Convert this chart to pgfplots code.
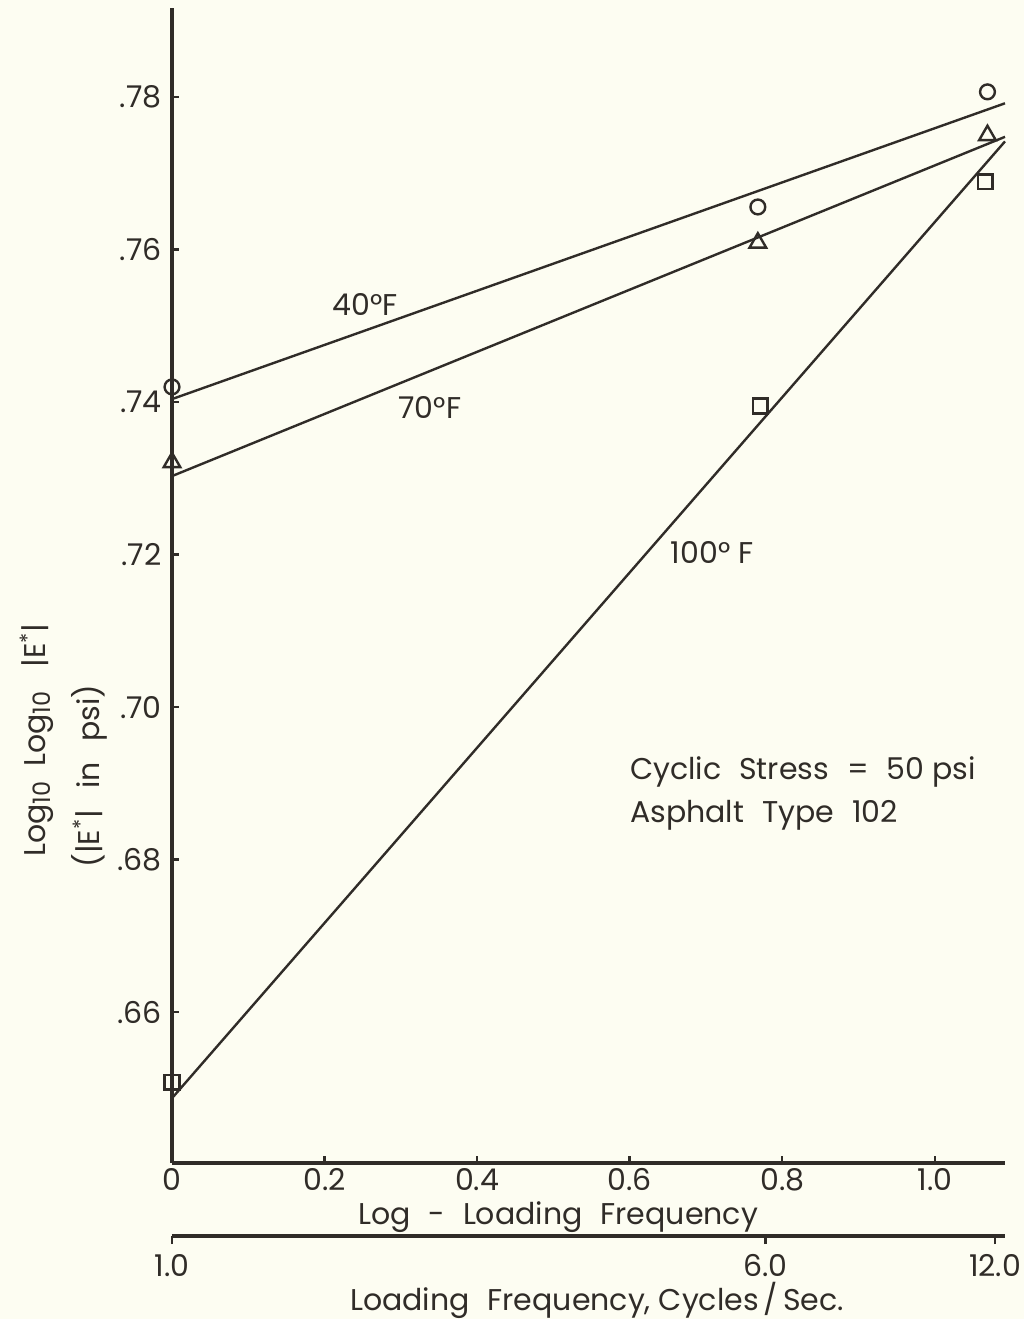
\documentclass[border=0pt]{standalone}
\usepackage{fontspec}
\setmainfont{Poppins}
\usepackage{pgfplots}
\pgfplotsset{compat=1.18}
\definecolor{ink}{RGB}{48,44,40}
\definecolor{paper}{RGB}{253,253,242}
\newcommand{\sub}[1]{{\fontsize{12}{14}\selectfont\raisebox{-0.35ex}{#1}}}
\begin{document}
\fontsize{15}{18}\selectfont
\begin{tikzpicture}
\fill[paper] (-86pt,-78pt) rectangle (426pt,581.5pt);
\path[use as bounding box] (-86pt,-78pt) rectangle (426pt,581.5pt);
\begin{axis}[
  at={(0,0)}, anchor=south west,
  scale only axis, width=416.5pt, height=577.5pt,
  xmin=0, xmax=1.092, ymin=0.6402, ymax=0.7917,
  axis x line=bottom, axis y line=left,
  axis line style={-, line width=1.8pt, color=ink},
  xtick={0,0.2,0.4,0.6,0.8,1.0},
  xticklabels={0,0.2,0.4,0.6,0.8,1.0},
  ytick={0.66,0.68,0.70,0.72,0.74,0.76,0.78},
  yticklabels={.66,.68,.70,.72,.74,.76,.78},
  tick align=inside, major tick length=3.5pt,
  tick style={line width=1.2pt, color=ink},
  ticklabel style={text=ink},
  xticklabel style={yshift=2.5pt},
  clip=false,
]
\addplot[ink, line width=1.2pt, no marks] coordinates {(0,0.7404) (1.092,0.7792)};
\addplot[ink, line width=1.2pt, no marks] coordinates {(0,0.7303) (1.092,0.7748)};
\addplot[ink, line width=1.2pt, no marks] coordinates {(0,0.6487) (1.092,0.7742)};
\addplot[ink, only marks, mark=o, mark size=3.7pt, line width=1.2pt] coordinates {(0,0.742) (0.768,0.7656) (1.069,0.7807)};
\addplot[ink, only marks, mark=triangle, mark size=4.8pt, line width=1.2pt] coordinates {(0,0.7321) (0.768,0.7609) (1.069,0.775)};
\addplot[ink, only marks, mark=square, mark size=3.7pt, line width=1.2pt] coordinates {(0,0.6508) (0.771,0.7395) (1.066,0.7689)};
\node[text=ink] at (axis cs:0.253,0.7528) {40°F};
\node[text=ink] at (axis cs:0.338,0.7393) {70°F};
\node[text=ink] at (axis cs:0.708,0.7203) {100° F};
\node[text=ink, anchor=west] at (axis cs:0.587,0.6915) {Cyclic\hspace{0.6em}Stress\hspace{0.6em}=\hspace{0.6em}50 psi};
\node[text=ink, anchor=west] at (axis cs:0.587,0.6858) {Asphalt\hspace{0.6em}Type\hspace{0.6em}102};
\end{axis}
\begin{axis}[
  at={(0,-36.5pt)}, anchor=south west,
  scale only axis, width=416.5pt, height=20pt,
  xmin=0, xmax=1.092, ymin=0, ymax=1,
  axis x line=bottom, axis y line=none,
  axis line style={-, line width=1.8pt, color=ink},
  xtick={0,0.778,1.079}, xticklabels={1.0,6.0,12.0},
  ytick=\empty,
  tick align=outside, major tick length=4pt,
  tick style={line width=1.2pt, color=ink},
  ticklabel style={text=ink},
]
\addplot[draw=none] coordinates {(0,0) (1,1)};
\end{axis}
\node[text=ink] at (193pt,-27pt) {Log\hspace{0.6em}-\hspace{0.6em}Loading\hspace{0.6em}Frequency};
\node[text=ink] at (212.5pt,-68.5pt) {Loading\hspace{0.6em}Frequency, Cycles\,/\,Sec.};
\node[text=ink, rotate=90] at (-67.5pt,211.5pt) {Log\sub{10}\hspace{0.5em}Log\sub{10}\hspace{0.8em}|E\textsuperscript{*}|};
\node[text=ink, rotate=90] at (-41.5pt,193.5pt) {(|E\textsuperscript{*}|\hspace{0.7em}in\hspace{0.7em}psi)};
\end{tikzpicture}
\end{document}
